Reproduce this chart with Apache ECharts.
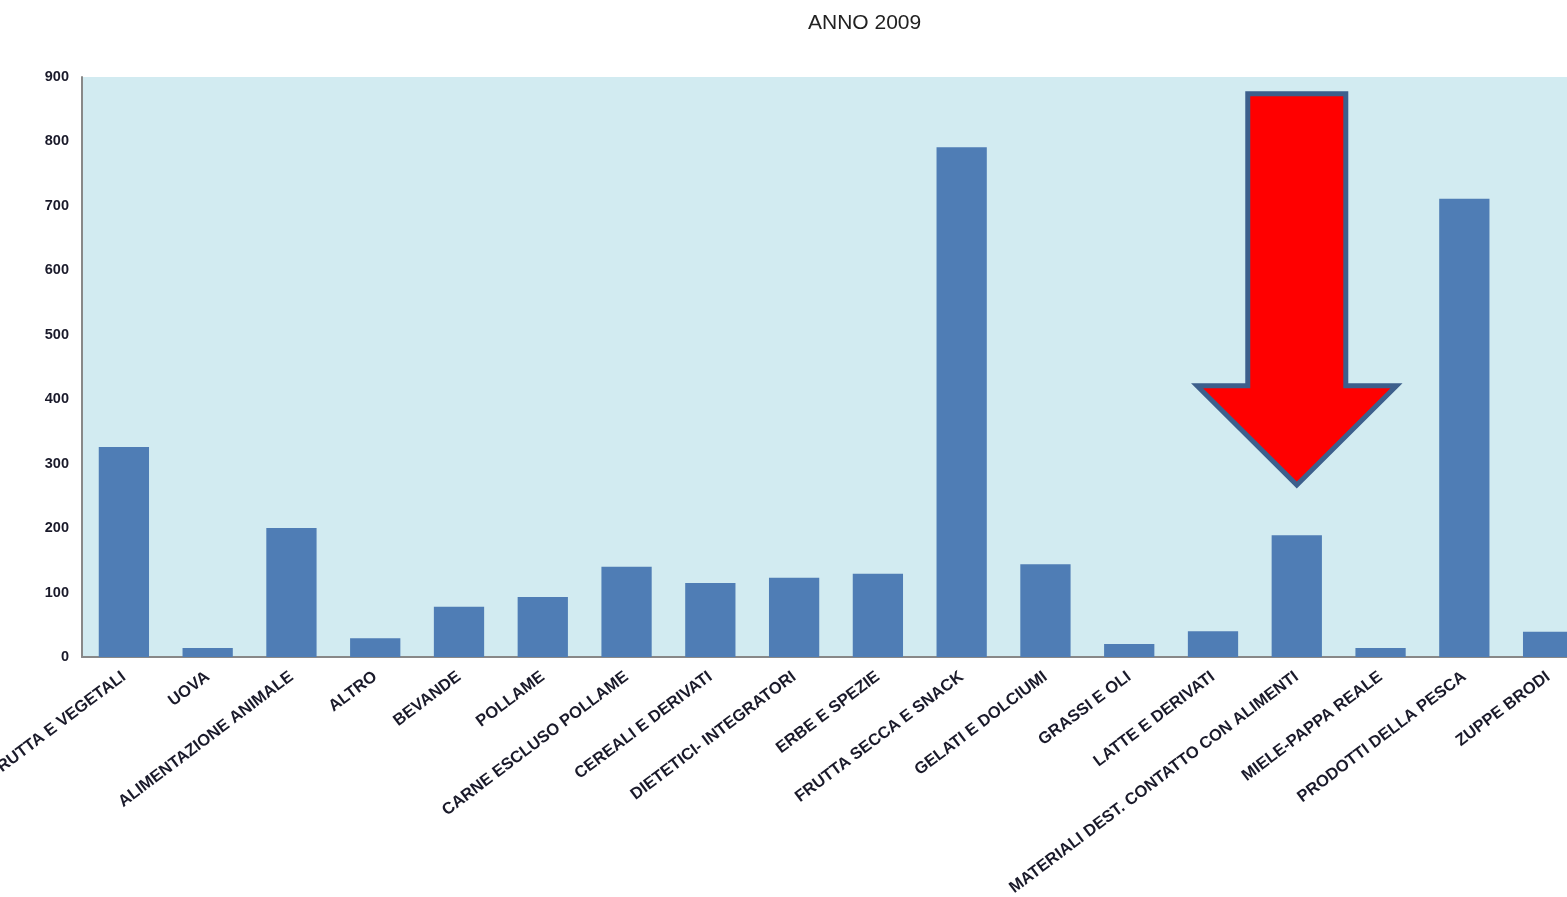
<!DOCTYPE html>
<html>
<head>
<meta charset="utf-8">
<script src="https://cdn.jsdelivr.net/npm/echarts@6/dist/echarts.min.js"></script>
<style>html,body{margin:0;padding:0;background:#fff;overflow:hidden;}#c{width:1590px;height:897px;}</style>
</head>
<body>
<div id="c"></div>
<script>
const categories = ["FRUTTA E VEGETALI","UOVA","ALIMENTAZIONE ANIMALE","ALTRO","BEVANDE","POLLAME","CARNE ESCLUSO POLLAME","CEREALI E DERIVATI","DIETETICI- INTEGRATORI","ERBE E SPEZIE","FRUTTA SECCA E SNACK","GELATI E DOLCIUMI","GRASSI E OLI","LATTE E DERIVATI","MATERIALI DEST. CONTATTO CON ALIMENTI","MIELE-PAPPA REALE","PRODOTTI DELLA PESCA","ZUPPE BRODI"];
const values = [326,14,200,29,78,93,140,115,123,129,791,144,20,40,189,14,711,39];
const yTicks = [0,100,200,300,400,500,600,700,800,900];
// arrow annotation (data coordinates): category index, shaft top, head base, tip
const arrowCategory = 14;
const arrowValues = [874,421,267];

const chart = echarts.init(document.getElementById('c'));
chart.setOption({
  animation:false,
  title:{text:'ANNO 2009',left:803,top:8,textStyle:{fontFamily:'Liberation Sans, Arial',fontSize:21,fontWeight:'normal',color:'#222'}},
  grid:{left:82,top:77,right:0,bottom:240,show:true,backgroundColor:'#d2ebf1',borderWidth:0,containLabel:false,outerBoundsMode:'none'},
  xAxis:{type:'category',data:categories,
    axisLine:{lineStyle:{color:'#888',width:2}},axisTick:{show:false},
    axisLabel:{interval:0,rotate:37,margin:18,fontFamily:'Liberation Sans, Arial',fontWeight:'bold',fontSize:16.5,color:'#1a1a2a'}},
  yAxis:{type:'value',min:0,max:900,interval:100,
    axisLine:{show:true,lineStyle:{color:'#888',width:2}},axisTick:{show:false},splitLine:{show:false},
    axisLabel:{margin:13,fontFamily:'Liberation Sans, Arial',fontWeight:'bold',fontSize:14.5,color:'#1a1a2a',
      formatter:v=>yTicks.includes(v)?String(v):''}},
  series:[{type:'bar',data:values,barCategoryGap:'40%',itemStyle:{color:'#4f7db5'}}]
});
const cx = chart.convertToPixel({xAxisIndex:0},arrowCategory);
const band = chart.convertToPixel({xAxisIndex:0},arrowCategory+1)-cx;
const yTop = chart.convertToPixel({yAxisIndex:0},arrowValues[0]);
const yBase = chart.convertToPixel({yAxisIndex:0},arrowValues[1]);
const yTip = chart.convertToPixel({yAxisIndex:0},arrowValues[2]);
const sw = band*0.585, hw = band*1.19;
chart.setOption({graphic:[{type:'polygon',shape:{points:[[cx-sw,yTop],[cx+sw,yTop],[cx+sw,yBase],[cx+hw,yBase],[cx,yTip],[cx-hw,yBase],[cx-sw,yBase]]},
  style:{fill:'#ff0000',stroke:'#3d5f8c',lineWidth:5,lineJoin:'miter'},z:100}]});
</script>
</body>
</html>
